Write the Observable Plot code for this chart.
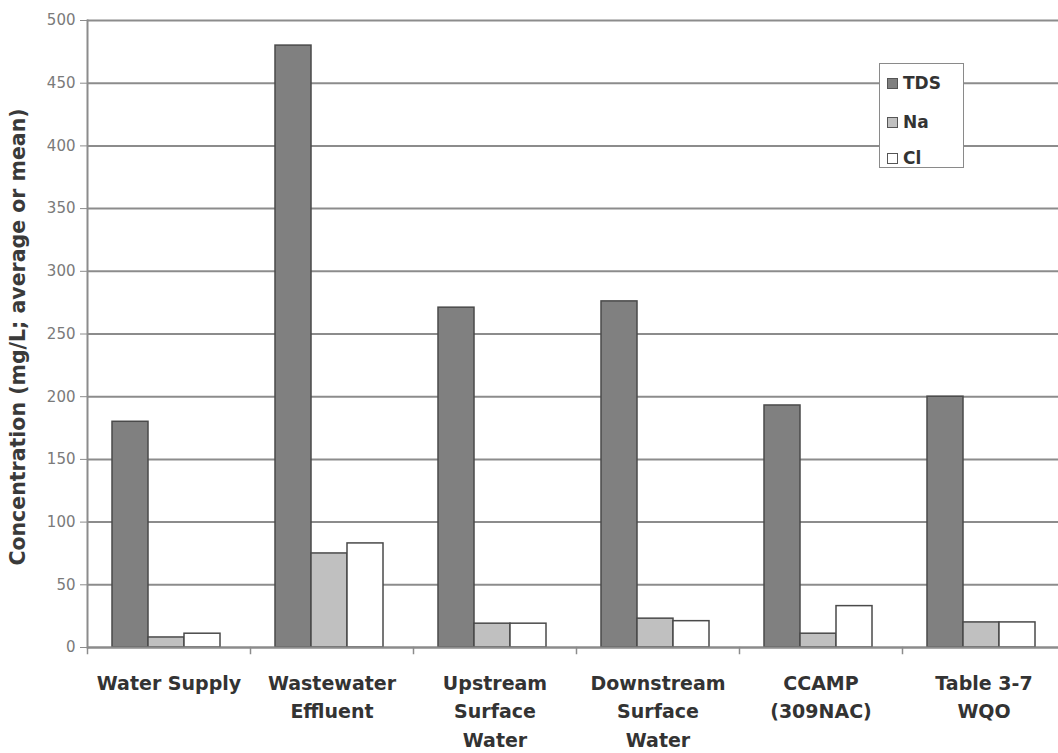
<!DOCTYPE html>
<html>
<head>
<meta charset="utf-8">
<script src="https://cdn.jsdelivr.net/npm/d3@7"></script>
<script src="https://cdn.jsdelivr.net/npm/@observablehq/plot@0.6"></script>
<style>
  html, body { margin: 0; padding: 0; background: #fff; overflow: hidden; }
  #wrap { position: relative; width: 1058px; height: 753px; }
  #ytitle {
    position: absolute; left: 18px; top: 337px;
    transform: translate(-50%, -50%) rotate(-90deg);
    white-space: nowrap; font: bold 20.5px "DejaVu Sans", sans-serif; color: #3a3a3a;
  }
  #legend {
    position: absolute; left: 879px; top: 63px; width: 83px; height: 103px;
    border: 1.5px solid #8a8a8a; background: #fff;
    font: bold 17px "DejaVu Sans", sans-serif; color: #333;
  }
  #legend .item { position: absolute; left: 7px; display: flex; align-items: center; height: 20px; }
  #legend .sw { width: 9px; height: 9px; border: 1px solid #555; margin-right: 5px; }
</style>
</head>
<body>
<div id="wrap">
  <div id="chart"></div>
  <div id="ytitle">Concentration (mg/L; average or mean)</div>
  <div id="legend"></div>
</div>
<script>
const categories = ["Water Supply", "Wastewater\nEffluent", "Upstream\nSurface\nWater", "Downstream\nSurface\nWater", "CCAMP\n(309NAC)", "Table 3-7\nWQO"];
const seriesNames = ["TDS", "Na", "Cl"];
const tdsValues = [180, 480, 271, 276, 193, 200];
const naValues = [8, 75, 19, 23, 11, 20];
const clValues = [11, 83, 19, 21, 33, 20];
const yTicks = [0, 50, 100, 150, 200, 250, 300, 350, 400, 450, 500];
const seriesColors = ["#808080", "#c0c0c0", "#ffffff"];

const seriesValues = [tdsValues, naValues, clValues];
const data = [];
categories.forEach((c, i) => {
  seriesNames.forEach((s, j) => data.push({cat: c, series: s, value: seriesValues[j][i]}));
});

const W = 1058, H = 753, MT = 20, MB = 106;
const chart = Plot.plot({
  width: W,
  height: H,
  marginTop: MT,
  marginBottom: MB,
  marginLeft: 85,
  marginRight: -8,
  style: {fontFamily: "DejaVu Sans, sans-serif", background: "#fff"},
  fx: {domain: categories, padding: 0, label: null},
  x: {domain: seriesNames, paddingInner: 0, paddingOuter: 0.72, align: 0.46, axis: null},
  y: {domain: [0, 500], label: null},
  color: {domain: seriesNames, range: seriesColors},
  marks: [
    Plot.gridY(yTicks, {stroke: "#8c8c8c", strokeOpacity: 1, strokeWidth: 2}),
    Plot.barY(data, {fx: "cat", x: "series", y: "value", fill: "series", stroke: "#4a4a4a", strokeWidth: 1.5}),
    Plot.ruleY([0], {stroke: "#8c8c8c", strokeWidth: 2}),
    Plot.frame({anchor: "left", insetTop: H - MT - MB, insetBottom: -6, stroke: "#8c8c8c", strokeWidth: 1.5}),
    Plot.frame({anchor: "left", facetAnchor: "left", stroke: "#8c8c8c", strokeWidth: 2}),
    Plot.axisY(yTicks, {anchor: "left", tickSize: 7, tickPadding: 5, stroke: "#8c8c8c", fill: "#7a7a7a", fontSize: 15, label: null}),
    Plot.axisFx({anchor: "bottom", tickSize: 0, tickPadding: 22, fontSize: 19, fontWeight: "bold", lineHeight: 1.5, fill: "#333", label: null})
  ]
});
document.getElementById("chart").appendChild(chart);

const legend = document.getElementById("legend");
const legendTops = [9, 48, 84];
seriesNames.forEach((s, i) => {
  const item = document.createElement("div");
  item.className = "item";
  item.style.top = legendTops[i] + "px";
  const sw = document.createElement("span");
  sw.className = "sw";
  sw.style.background = seriesColors[i];
  const tx = document.createElement("span");
  tx.textContent = s;
  item.appendChild(sw);
  item.appendChild(tx);
  legend.appendChild(item);
});
</script>
</body>
</html>
